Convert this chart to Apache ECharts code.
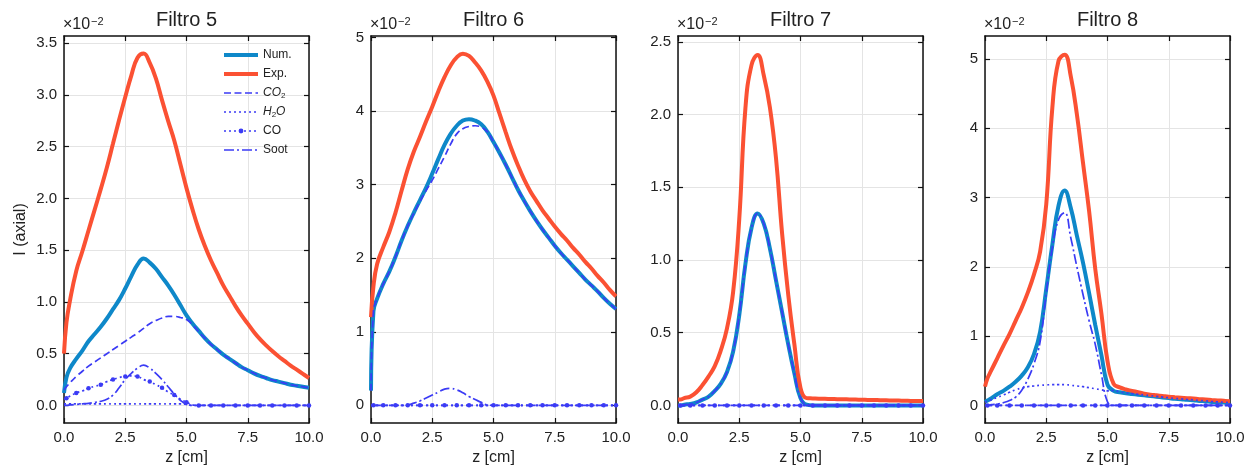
<!DOCTYPE html>
<html>
<head>
<meta charset="utf-8">
<script src="https://cdn.jsdelivr.net/npm/echarts@6/dist/echarts.min.js"></script>
<style>
html, body { margin: 0; padding: 0; background: #fff; }
#chart { width: 1247px; height: 465px; }
</style>
</head>
<body>
<div id="chart"></div>
<script>
// axial position z [cm], shared by every curve
const Z = [0, 0.1, 0.25, 0.5, 0.75, 1, 1.25, 1.5, 1.75, 2, 2.25, 2.5, 2.75, 3, 3.25, 3.5, 3.75, 4, 4.25, 4.5, 4.75,
  5, 5.25, 5.5, 5.75, 6, 6.25, 6.5, 6.75, 7, 7.25, 7.5, 7.75, 8, 8.25, 8.5, 8.75, 9, 9.25, 9.5, 9.75, 10];

// intensities, in units of 1e-2
const ZERO = [0, 0, 0, 0, 0, 0, 0, 0, 0, 0, 0, 0, 0, 0, 0, 0, 0, 0, 0, 0, 0,
  0, 0, 0, 0, 0, 0, 0, 0, 0, 0, 0, 0, 0, 0, 0, 0, 0, 0, 0, 0, 0];

// Filtro 5
const F5_NUM = [0.12, 0.27, 0.36, 0.45, 0.53, 0.62, 0.69, 0.76, 0.84, 0.93, 1.02, 1.13, 1.25, 1.36, 1.42, 1.38, 1.32, 1.24, 1.16, 1.07, 0.97,
  0.87, 0.79, 0.72, 0.65, 0.59, 0.54, 0.49, 0.45, 0.41, 0.37, 0.34, 0.31, 0.285, 0.265, 0.245, 0.23, 0.215, 0.20, 0.19, 0.18, 0.17];
const F5_EXP = [0.50, 0.80, 1.02, 1.30, 1.49, 1.69, 1.89, 2.09, 2.30, 2.53, 2.76, 2.98, 3.19, 3.36, 3.40, 3.31, 3.16, 2.95, 2.75, 2.56, 2.33,
  2.10, 1.89, 1.70, 1.54, 1.40, 1.28, 1.16, 1.06, 0.96, 0.87, 0.79, 0.71, 0.64, 0.58, 0.525, 0.475, 0.43, 0.385, 0.345, 0.305, 0.265];
const F5_CO2 = [0.15, 0.18, 0.22, 0.28, 0.33, 0.38, 0.42, 0.46, 0.50, 0.54, 0.58, 0.62, 0.66, 0.70, 0.745, 0.79, 0.82, 0.845, 0.86, 0.86, 0.85,
  0.83, 0.78, 0.71, 0.65, 0.59, 0.54, 0.49, 0.45, 0.41, 0.37, 0.34, 0.31, 0.285, 0.265, 0.245, 0.23, 0.215, 0.20, 0.19, 0.18, 0.17];
const F5_H2O = [0.015, 0.015, 0.015, 0.015, 0.015, 0.015, 0.015, 0.015, 0.015, 0.015, 0.015, 0.015, 0.015, 0.015, 0.015, 0.015, 0.015, 0.015, 0.015, 0.015, 0.015,
  0.01, 0, 0, 0, 0, 0, 0, 0, 0, 0, 0, 0, 0, 0, 0, 0, 0, 0, 0, 0, 0];
const F5_CO = [0.06, 0.07, 0.09, 0.12, 0.14, 0.165, 0.185, 0.20, 0.23, 0.25, 0.27, 0.28, 0.285, 0.28, 0.25, 0.23, 0.20, 0.17, 0.13, 0.10, 0.06,
  0.03, 0.005, 0, 0, 0, 0, 0, 0, 0, 0, 0, 0, 0, 0, 0, 0, 0, 0, 0, 0, 0];
const F5_SOOT = [0, 0, 0.005, 0.01, 0.015, 0.02, 0.03, 0.04, 0.06, 0.10, 0.17, 0.25, 0.31, 0.36, 0.39, 0.36, 0.31, 0.25, 0.18, 0.11, 0.05,
  0.01, 0, 0, 0, 0, 0, 0, 0, 0, 0, 0, 0, 0, 0, 0, 0, 0, 0, 0, 0, 0];

// Filtro 6
const F6_NUM = [0.20, 1.28, 1.45, 1.65, 1.82, 2.02, 2.24, 2.44, 2.62, 2.79, 2.96, 3.15, 3.35, 3.54, 3.69, 3.80, 3.87, 3.89, 3.87, 3.82, 3.72,
  3.58, 3.43, 3.27, 3.10, 2.93, 2.78, 2.64, 2.51, 2.39, 2.28, 2.17, 2.07, 1.98, 1.89, 1.80, 1.71, 1.63, 1.55, 1.46, 1.38, 1.31];
const F6_EXP = [1.20, 1.62, 1.92, 2.15, 2.36, 2.62, 2.92, 3.21, 3.45, 3.65, 3.86, 4.06, 4.27, 4.46, 4.62, 4.73, 4.78, 4.75, 4.66, 4.55, 4.40,
  4.21, 3.96, 3.71, 3.47, 3.26, 3.07, 2.91, 2.78, 2.65, 2.54, 2.43, 2.33, 2.24, 2.14, 2.05, 1.95, 1.86, 1.76, 1.67, 1.57, 1.48];
const F6_CO2 = [0.20, 1.28, 1.45, 1.65, 1.82, 2.02, 2.24, 2.44, 2.61, 2.77, 2.92, 3.06, 3.22, 3.38, 3.55, 3.69, 3.76, 3.79, 3.80, 3.78, 3.72,
  3.58, 3.43, 3.27, 3.10, 2.93, 2.78, 2.64, 2.51, 2.39, 2.28, 2.17, 2.07, 1.98, 1.89, 1.80, 1.71, 1.63, 1.55, 1.46, 1.38, 1.31];
const F6_SOOT = [0, 0, 0, 0, 0, 0, 0, 0.005, 0.03, 0.06, 0.10, 0.14, 0.18, 0.22, 0.23, 0.21, 0.17, 0.12, 0.08, 0.04, 0.005,
  0, 0, 0, 0, 0, 0, 0, 0, 0, 0, 0, 0, 0, 0, 0, 0, 0, 0, 0, 0, 0];

// Filtro 7
const F7_NUM = [0, 0, 0.005, 0.01, 0.02, 0.04, 0.06, 0.10, 0.15, 0.23, 0.37, 0.62, 0.97, 1.22, 1.32, 1.25, 1.08, 0.86, 0.64, 0.42, 0.22,
  0.05, 0.005, 0, 0, 0, 0, 0, 0, 0, 0, 0, 0, 0, 0, 0, 0, 0, 0, 0, 0, 0];
const F7_EXP = [0.04, 0.04, 0.05, 0.06, 0.09, 0.14, 0.20, 0.27, 0.38, 0.53, 0.78, 1.28, 2.04, 2.34, 2.41, 2.27, 2.05, 1.70, 1.18, 0.76, 0.42,
  0.12, 0.05, 0.048, 0.046, 0.045, 0.044, 0.043, 0.042, 0.041, 0.040, 0.039, 0.038, 0.037, 0.036, 0.035, 0.034, 0.033, 0.032, 0.031, 0.030, 0.030];
const F7_SOOT = [0, 0, 0.005, 0.01, 0.02, 0.04, 0.06, 0.10, 0.15, 0.23, 0.37, 0.62, 0.97, 1.22, 1.32, 1.25, 1.08, 0.86, 0.64, 0.42, 0.22,
  0.05, 0.005, 0, 0, 0, 0, 0, 0, 0, 0, 0, 0, 0, 0, 0, 0, 0, 0, 0, 0, 0];

// Filtro 8
const F8_NUM = [0.05, 0.07, 0.10, 0.16, 0.21, 0.27, 0.34, 0.43, 0.55, 0.74, 1.06, 1.68, 2.32, 2.88, 3.10, 2.85, 2.45, 2.06, 1.62, 1.16, 0.73,
  0.30, 0.21, 0.19, 0.175, 0.165, 0.155, 0.145, 0.135, 0.125, 0.115, 0.105, 0.095, 0.09, 0.08, 0.075, 0.065, 0.06, 0.05, 0.045, 0.04, 0.035];
const F8_EXP = [0.27, 0.39, 0.50, 0.68, 0.86, 1.03, 1.22, 1.41, 1.63, 1.89, 2.22, 2.90, 4.30, 4.97, 5.06, 4.75, 4.20, 3.50, 2.80, 1.97, 1.33,
  0.64, 0.31, 0.26, 0.23, 0.21, 0.19, 0.17, 0.155, 0.145, 0.135, 0.125, 0.118, 0.112, 0.105, 0.098, 0.09, 0.085, 0.078, 0.072, 0.066, 0.06];
const F8_H2O = [0.05, 0.06, 0.08, 0.115, 0.15, 0.19, 0.225, 0.25, 0.27, 0.28, 0.29, 0.295, 0.30, 0.30, 0.30, 0.29, 0.28, 0.27, 0.255, 0.24, 0.225,
  0.21, 0.215, 0.195, 0.18, 0.17, 0.16, 0.15, 0.14, 0.13, 0.12, 0.11, 0.10, 0.095, 0.085, 0.08, 0.07, 0.065, 0.055, 0.05, 0.045, 0.04];
const F8_SOOT = [0, 0, 0.01, 0.02, 0.04, 0.07, 0.12, 0.22, 0.38, 0.60, 0.92, 1.62, 2.28, 2.68, 2.78, 2.42, 2.00, 1.60, 1.22, 0.88, 0.45,
  0.05, 0, 0, 0, 0, 0, 0, 0, 0, 0, 0, 0, 0, 0, 0, 0, 0, 0, 0, 0, 0];

const TITLES = ['Filtro 5', 'Filtro 6', 'Filtro 7', 'Filtro 8'];
const X_TICKS = [0, 2.5, 5, 7.5, 10];
const Y_TICKS = [
  [0, 0.5, 1, 1.5, 2, 2.5, 3, 3.5],
  [0, 1, 2, 3, 4, 5],
  [0, 0.5, 1, 1.5, 2, 2.5],
  [0, 1, 2, 3, 4, 5]
];

const PANELS = [
  { num: F5_NUM, exp: F5_EXP, co2: F5_CO2, h2o: F5_H2O, co: F5_CO, soot: F5_SOOT, yMin: -0.17, yMax: 3.57, step: 0.5, dec: 1 },
  { num: F6_NUM, exp: F6_EXP, co2: F6_CO2, h2o: ZERO, co: ZERO, soot: F6_SOOT, yMin: -0.24, yMax: 5.02, step: 1, dec: 0 },
  { num: F7_NUM, exp: F7_EXP, co2: ZERO, h2o: ZERO, co: ZERO, soot: F7_SOOT, yMin: -0.121, yMax: 2.54, step: 0.5, dec: 1 },
  { num: F8_NUM, exp: F8_EXP, co2: ZERO, h2o: F8_H2O, co: ZERO, soot: F8_SOOT, yMin: -0.254, yMax: 5.33, step: 1, dec: 0 }
];

const FONT = '"Liberation Sans", Arial, sans-serif';
const INK = '#222';
const C_NUM = '#0e88c9';
const C_EXP = '#fb5133';
const C_COMP = '#3b3bf5';

const GRID_LEFT = [64, 371, 678, 985];
const GRID_W = 245, GRID_TOP = 36, GRID_H = 387;

const grids = GRID_LEFT.map(l => ({
  left: l, top: GRID_TOP, width: GRID_W, height: GRID_H,
  containLabel: false, outerBoundsMode: 'none'
}));

const tickStyle = { inside: true, length: 5, lineStyle: { color: '#111', width: 1.2 } };
const spine = { show: true, onZero: false, lineStyle: { color: '#111', width: 1.5 } };
const gridLine = { show: true, lineStyle: { color: '#e4e4e4', width: 1 } };

const xAxes = [], yAxes = [];
PANELS.forEach((p, g) => {
  xAxes.push({
    type: 'value', gridIndex: g, position: 'bottom', min: 0, max: 10, interval: 2.5,
    axisLine: spine, axisTick: tickStyle, splitLine: gridLine,
    axisLabel: { fontSize: 15, color: INK, fontFamily: FONT, margin: 7, formatter: v => v.toFixed(1) },
    name: 'z [cm]', nameLocation: 'middle', nameGap: 25,
    nameTextStyle: { fontSize: 16, color: INK, fontFamily: FONT }
  });
  xAxes.push({
    type: 'value', gridIndex: g, position: 'top', min: 0, max: 10, interval: 2.5,
    axisLine: spine, axisTick: tickStyle, splitLine: { show: false }, axisLabel: { show: false }
  });
  const ticks = Y_TICKS[g];
  yAxes.push({
    type: 'value', gridIndex: g, position: 'left', min: p.yMin, max: p.yMax,
    minInterval: p.step, maxInterval: p.step,
    axisLine: spine,
    axisTick: Object.assign({ customValues: ticks }, tickStyle),
    splitLine: gridLine,
    axisLabel: { customValues: ticks, fontSize: 15, color: INK, fontFamily: FONT, margin: 7, formatter: v => v.toFixed(p.dec) },
    name: g === 0 ? 'I (axial)' : '', nameLocation: 'middle', nameGap: 35, nameRotate: 90,
    nameTextStyle: { fontSize: 16, color: INK, fontFamily: FONT }
  });
  yAxes.push({
    type: 'value', gridIndex: g, position: 'right', min: p.yMin, max: p.yMax,
    minInterval: p.step, maxInterval: p.step,
    axisLine: spine,
    axisTick: Object.assign({ customValues: ticks }, tickStyle),
    splitLine: { show: false }, axisLabel: { show: false }
  });
});

function curve(name, g, vals, color, width, type, extra) {
  return Object.assign({
    type: 'line', name, xAxisIndex: 2 * g, yAxisIndex: 2 * g,
    data: Z.map((z, i) => [z, vals[i]]),
    symbol: 'none', smooth: 0.45, clip: true,
    lineStyle: { color, width, type },
    itemStyle: { color },
    emphasis: { disabled: true }
  }, extra || {});
}

const series = [];
PANELS.forEach((p, g) => {
  series.push(curve('Num.', g, p.num, C_NUM, 4, 'solid', { z: 2 }));
  series.push(curve('Exp.', g, p.exp, C_EXP, 4, 'solid', { z: 2 }));
  series.push(curve('CO2', g, p.co2, C_COMP, 1.7, [7, 3.5], { z: 3 }));
  series.push(curve('H2O', g, p.h2o, C_COMP, 1.7, [2, 3], { z: 3 }));
  // CO: dotted line with a dot every other sample
  const co = curve('CO', g, p.co, C_COMP, 1.7, [2, 3], { z: 3, symbol: 'circle', symbolSize: 4.5, showSymbol: true });
  co.data = Z.map((z, i) => ({ value: [z, p.co[i]], symbol: i % 2 === 1 ? 'circle' : 'none' }));
  series.push(co);
  series.push(curve('Soot', g, p.soot, C_COMP, 1.7, [10, 3, 2, 3], { z: 3 }));
});

const graphics = [];
GRID_LEFT.forEach((l, g) => {
  graphics.push({
    type: 'text', x: l + GRID_W / 2, y: 20,
    style: { text: TITLES[g], font: '20px ' + FONT, fill: INK, align: 'center', verticalAlign: 'middle' }
  });
  graphics.push({
    type: 'text', x: l - 1, y: 33,
    style: { text: '×10', font: '16px ' + FONT, fill: INK, align: 'left', verticalAlign: 'bottom' }
  });
  graphics.push({
    type: 'text', x: l + 27, y: 27,
    style: { text: '−2', font: '11px ' + FONT, fill: INK, align: 'left', verticalAlign: 'bottom' }
  });
});

const LEGEND_LABELS = {
  'CO2': '{i|CO}{s|2}',
  'H2O': '{i|H}{s|2}{i|O}'
};

const hiddenMark = { opacity: 0 };
const thick = { width: 4 };
const thin = { width: 1.7 };
const option = {
  animation: false,
  backgroundColor: '#fff',
  textStyle: { fontFamily: FONT },
  grid: grids,
  xAxis: xAxes,
  yAxis: yAxes,
  legend: {
    orient: 'vertical', left: 222, top: 48, padding: 0,
    itemWidth: 34, itemHeight: 6, itemGap: 5,
    data: [
      { name: 'Num.', itemStyle: hiddenMark, lineStyle: thick },
      { name: 'Exp.', itemStyle: hiddenMark, lineStyle: thick },
      { name: 'CO2', itemStyle: hiddenMark, lineStyle: thin },
      { name: 'H2O', itemStyle: hiddenMark, lineStyle: thin },
      { name: 'CO', lineStyle: thin },
      { name: 'Soot', itemStyle: hiddenMark, lineStyle: thin }
    ],
    formatter: name => LEGEND_LABELS[name] || name,
    textStyle: {
      fontSize: 12, color: INK, fontFamily: FONT, lineHeight: 14,
      rich: {
        i: { fontSize: 12, fontStyle: 'italic', color: INK, fontFamily: FONT, lineHeight: 14 },
        s: { fontSize: 8, color: INK, fontFamily: FONT, lineHeight: 9, verticalAlign: 'bottom' }
      }
    },
    selectedMode: false
  },
  graphic: graphics,
  series
};

const chart = echarts.init(document.getElementById('chart'), null, { renderer: 'canvas' });
chart.setOption(option);
</script>
</body>
</html>
